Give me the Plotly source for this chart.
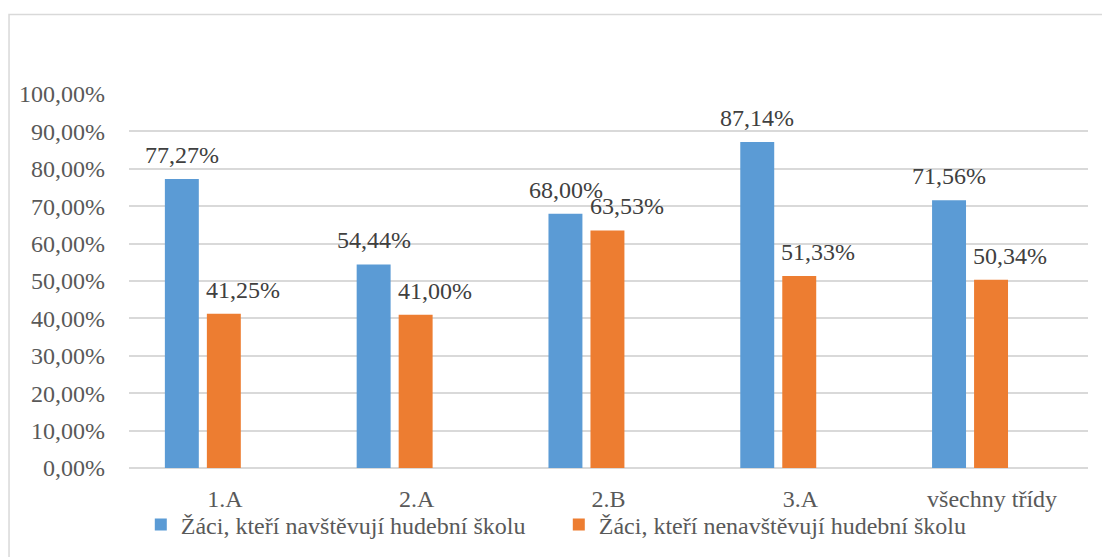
import plotly.graph_objects as go

# Share of pupils per class
classes = ["1.A", "2.A", "2.B", "3.A", "všechny třídy"]
music_school = [0.7727, 0.5444, 0.6800, 0.8714, 0.7156]
no_music_school = [0.4125, 0.4100, 0.6353, 0.5133, 0.5034]
series_names = ["Žáci, kteří navštěvují hudební školu",
                "Žáci, kteří nenavštěvují hudební školu"]

BLUE = "#5B9BD5"
ORANGE = "#ED7D31"
GRID = "#D9D9D9"
TEXT = "#595959"
LABEL = "#404040"
FONT = "Liberation Serif"
SIZE = 24

BAR_W = 0.177
fig = go.Figure()
fig.add_trace(go.Bar(x=classes, y=music_school, name=series_names[0],
                     marker=dict(color=BLUE, line=dict(width=0)),
                     width=BAR_W, offset=-0.313))
fig.add_trace(go.Bar(x=classes, y=no_music_school, name=series_names[1],
                     marker=dict(color=ORANGE, line=dict(width=0)),
                     width=BAR_W, offset=-0.094))


def pct(v):
    return f"{v * 100:.2f}".replace(".", ",") + "%"


# value labels above the bars
annotations = []
for values, dx in ((music_school, -43), (no_music_school, 18)):
    for cat, v in zip(classes, values):
        annotations.append(dict(x=cat, y=v, xref="x", yref="y", text=pct(v),
                                showarrow=False, xshift=dx, yshift=24,
                                yanchor="middle",
                                font=dict(family=FONT, size=SIZE, color=LABEL)))

fig.update_layout(
    width=1102, height=557,
    font=dict(family=FONT, size=SIZE, color=TEXT),
    margin=dict(l=129, r=14, t=94, b=89, autoexpand=False),
    paper_bgcolor="white", plot_bgcolor="white",
    separators=", ",
    barmode="overlay",
    showlegend=True,
    legend=dict(orientation="h", x=0.0123, xanchor="left", y=-0.152,
                yanchor="middle", font=dict(family=FONT, size=SIZE, color=TEXT),
                bgcolor="rgba(0,0,0,0)",
                itemwidth=30, traceorder="normal",
                entrywidth=373, entrywidthmode="pixels"),
    annotations=annotations,
    shapes=[dict(type="rect", xref="paper", yref="paper",
                 x0=-0.1251, x1=1.05, y0=-0.4, y1=1.2126,
                 line=dict(color=GRID, width=1.5), layer="below")],
    xaxis=dict(showgrid=False, showline=False, ticks="",
               tickfont=dict(family=FONT, size=SIZE, color=TEXT),
               ticklabelstandoff=14),
    yaxis=dict(range=[0, 1], dtick=0.1, tickformat=".2%",
               showgrid=True, gridcolor=GRID, gridwidth=1.5,
               zeroline=True, zerolinecolor=GRID, zerolinewidth=1.5,
               showline=False, ticks="",
               tickfont=dict(family=FONT, size=SIZE, color=TEXT),
               ticklabelstandoff=23),
)

fig.write_html("out.html")
